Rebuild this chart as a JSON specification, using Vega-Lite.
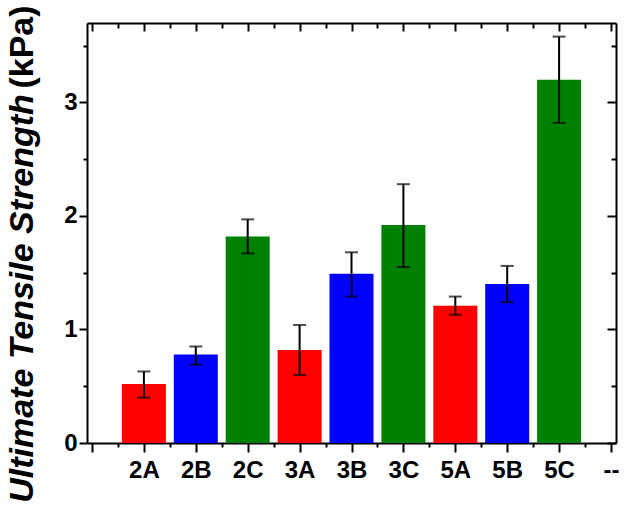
{
  "$schema": "https://vega.github.io/schema/vega-lite/v6.json",
  "width": 529,
  "height": 420,
  "autosize": {"type": "none"},
  "padding": {"left": 87, "top": 23, "right": 18, "bottom": 64},
  "background": "white",
  "config": {
    "font": "Liberation Sans",
    "view": {"stroke": null},
    "axis": {
      "grid": false,
      "domainColor": "black",
      "domainWidth": 2,
      "tickColor": "black",
      "tickWidth": 2,
      "labelColor": "black",
      "titleColor": "black",
      "labelOverlap": false,
      "labelBound": false,
      "labelFlush": false
    }
  },
  "data": {
    "values": [
      {"pos": 1, "sample": "2A", "group": "A", "value": 0.52, "lo": 0.40, "hi": 0.63},
      {"pos": 2, "sample": "2B", "group": "B", "value": 0.78, "lo": 0.69, "hi": 0.85},
      {"pos": 3, "sample": "2C", "group": "C", "value": 1.82, "lo": 1.67, "hi": 1.97},
      {"pos": 4, "sample": "3A", "group": "A", "value": 0.82, "lo": 0.60, "hi": 1.04},
      {"pos": 5, "sample": "3B", "group": "B", "value": 1.49, "lo": 1.29, "hi": 1.68},
      {"pos": 6, "sample": "3C", "group": "C", "value": 1.92, "lo": 1.55, "hi": 2.28},
      {"pos": 7, "sample": "5A", "group": "A", "value": 1.21, "lo": 1.13, "hi": 1.29},
      {"pos": 8, "sample": "5B", "group": "B", "value": 1.40, "lo": 1.24, "hi": 1.56},
      {"pos": 9, "sample": "5C", "group": "C", "value": 3.20, "lo": 2.82, "hi": 3.58}
    ]
  },
  "layer": [
    {
      "mark": {"type": "bar", "size": 44},
      "encoding": {
        "x": {
          "field": "pos", "type": "quantitative",
          "scale": {"domain": [0, 10], "nice": false, "zero": false},
          "axis": {
            "orient": "bottom",
            "values": [0, 0.5, 1, 1.5, 2, 2.5, 3, 3.5, 4, 4.5, 5, 5.5, 6, 6.5, 7, 7.5, 8, 8.5, 9, 9.5, 10],
            "labelExpr": "datum.value % 1 === 0 ? ['','2A','2B','2C','3A','3B','3C','5A','5B','5C','--'][datum.value] : ''",
            "tickSize": {"condition": {"test": "datum.value % 1 === 0", "value": 9}, "value": 4},
            "labelFont": "Liberation Sans",
            "labelFontSize": 24,
            "labelFontWeight": "bold",
            "labelPadding": 6,
            "title": null
          }
        },
        "y": {
          "field": "value", "type": "quantitative",
          "scale": {"domain": [0, 3.7], "nice": false},
          "axis": {
            "orient": "left",
            "values": [0, 0.5, 1, 1.5, 2, 2.5, 3, 3.5],
            "labelExpr": "datum.value % 1 === 0 ? '' + datum.value : ''",
            "tickSize": {"condition": {"test": "datum.value % 1 === 0", "value": 8}, "value": 4},
            "labelFont": "Liberation Sans",
            "labelFontSize": 24,
            "labelFontWeight": "bold",
            "labelPadding": 2,
            "title": "Ultimate Tensile Strength",
            "titleFont": "Liberation Sans",
            "titleFontSize": 34,
            "titleFontWeight": "bold",
            "titleFontStyle": "italic",
            "titleAngle": -90,
            "titleAlign": "center",
            "titleBaseline": "alphabetic",
            "titleX": -55,
            "titleY": 275
          }
        },
        "color": {
          "field": "group", "type": "nominal",
          "scale": {"domain": ["A", "B", "C"], "range": ["#FF0000", "#0000FF", "#008000"]},
          "legend": null
        }
      }
    },
    {
      "mark": {"type": "rule", "color": "black", "strokeWidth": 2},
      "encoding": {
        "x": {"field": "pos", "type": "quantitative", "axis": null},
        "y": {"field": "lo", "type": "quantitative", "axis": null},
        "y2": {"field": "hi"}
      }
    },
    {
      "mark": {"type": "tick", "orient": "horizontal", "color": "black", "size": 13, "thickness": 2},
      "encoding": {
        "x": {"field": "pos", "type": "quantitative", "axis": null},
        "y": {"field": "lo", "type": "quantitative", "axis": null}
      }
    },
    {
      "mark": {"type": "tick", "orient": "horizontal", "color": "black", "size": 13, "thickness": 2},
      "encoding": {
        "x": {"field": "pos", "type": "quantitative", "axis": null},
        "y": {"field": "hi", "type": "quantitative", "axis": null}
      }
    },
    {
      "mark": {"type": "rule", "opacity": 0},
      "encoding": {
        "x": {
          "field": "pos", "type": "quantitative",
          "axis": {
            "orient": "top",
            "values": [0, 0.5, 1, 1.5, 2, 2.5, 3, 3.5, 4, 4.5, 5, 5.5, 6, 6.5, 7, 7.5, 8, 8.5, 9, 9.5, 10],
            "labels": false,
            "ticks": true,
            "tickSize": {"condition": {"test": "datum.value % 1 === 0", "value": -8}, "value": -5},
            "title": null
          }
        },
        "y": {
          "field": "value", "type": "quantitative",
          "axis": {
            "orient": "right",
            "values": [0, 0.5, 1, 1.5, 2, 2.5, 3, 3.5],
            "labels": false,
            "ticks": true,
            "tickSize": {"condition": {"test": "datum.value % 1 === 0", "value": -9}, "value": -5},
            "title": "(kPa)",
            "titleFont": "Liberation Sans",
            "titleFontSize": 34,
            "titleFontWeight": "bold",
            "titleFontStyle": "normal",
            "titleAngle": -90,
            "titleAlign": "center",
            "titleBaseline": "alphabetic",
            "titleX": -584,
            "titleY": 23.5
          }
        }
      }
    }
  ],
  "resolve": {"axis": {"x": "independent", "y": "independent"}}
}
